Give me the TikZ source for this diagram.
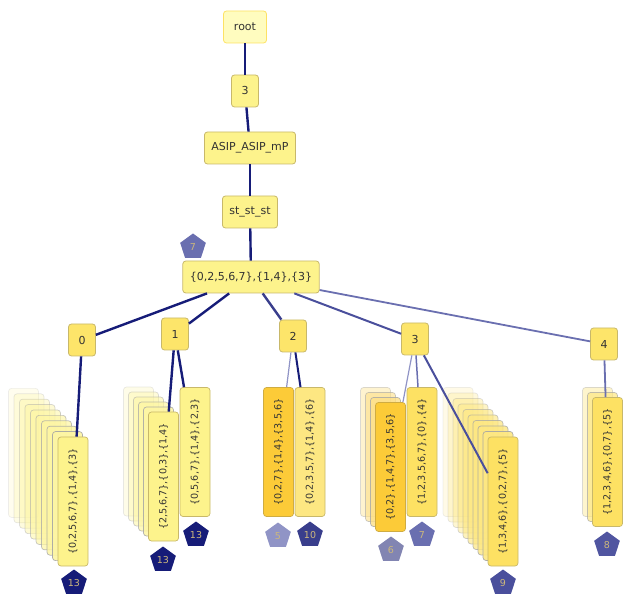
\documentclass[tikz,border=0pt]{standalone}
\usepackage{fontspec}
\setmainfont{DejaVu Sans}
\usepackage{xcolor}
\usepackage{tikz}
\usetikzlibrary{shapes.geometric}

\definecolor{boxfill}{HTML}{FDF38C}
\definecolor{boxline}{HTML}{C8B86A}
\definecolor{numfill}{HTML}{FDE56A}
\definecolor{deepfill}{HTML}{FDE163}
\definecolor{orangefill}{HTML}{FCCB38}
\definecolor{navy}{HTML}{161C78}
\definecolor{midblue}{HTML}{4A4F9C}
\definecolor{softblue}{HTML}{6A6FB0}
\definecolor{paleblue}{HTML}{9094C6}
\definecolor{pentext}{HTML}{CDB87C}

\begin{document}
\begin{tikzpicture}[x=1pt,y=-1pt,
    box/.style={draw=boxline,fill=boxfill,rounded corners=3pt,line width=0.8pt,
      text=black!80,font=\fontsize{11}{12}\selectfont,minimum height=32pt,inner xsep=7pt},
    num/.style={box,fill=numfill,minimum width=27pt},
    leaf/.style={draw=boxline,fill=boxfill,rounded corners=3pt,line width=0.7pt,rotate=90,
      text=black!80,font=\fontsize{9.6}{10}\selectfont,minimum width=129pt,minimum height=30pt,inner sep=1pt},
    ghost/.style={leaf,draw=black!35,fill=boxfill!80!white,draw opacity=#1,fill opacity=#1},
    pent/.style={regular polygon,regular polygon sides=5,inner sep=0pt,minimum size=27pt,
      fill=#1,text=pentext,font=\fontsize{9.5}{10}\selectfont},
    edge/.style={draw=#1,line width=2.4pt},
  ]
  \useasboundingbox (0,0) rectangle (624,601);

  % upper chain
  \node[box,fill=yellow!25,draw=yellow!70!orange!60,minimum width=43pt,inner xsep=5pt] (root) at (245,27) {root};
  \node[num,fill=boxfill] (k3) at (245,91) {3};
  \node[box] (asip) at (250,148) {ASIP\_ASIP\_mP};
  \node[box] (st) at (250,212) {st\_st\_st};
  \node[box] (set) at (251,277) {\{0,2,5,6,7\},\{1,4\},\{3\}};
  \node[pent=softblue] (p7top) at (193,247) {7};

  % second level
  \node[num] (n0) at (82,340) {0};
  \node[num] (n1) at (175,334) {1};
  \node[num] (n2) at (293,336) {2};
  \node[num] (n3) at (415,339) {3};
  \node[num] (n4) at (604,344) {4};

  \draw[edge=navy] (root) -- (k3);
  \draw[edge=navy] (k3) -- (asip);
  \draw[edge=navy] (asip) -- (st);
  \draw[edge=navy] (st) -- (set);
  \draw[edge=navy] (set) -- (n0);
  \draw[edge=navy] (set) -- (n1);
  \draw[edge=navy!85!white] (set) -- (n2);
  \draw[edge=midblue,line width=2pt] (set) -- (n3);
  \draw[edge=softblue,line width=1.8pt] (set) -- (n4);

  % stacks of ghosts
  \foreach \i in {9,...,1}
    \node[ghost={1-0.09*\i}] (ga\i) at ({73-5.5*\i},{501.5-5.4*\i}) {};
  \foreach \i in {5,...,1}
    \node[ghost={1-0.15*\i}] (gb\i) at ({163.5-5*\i},{476.5-5*\i}) {};
  \foreach \i in {3,...,1}
    \node[ghost={1-0.2*\i},fill=orangefill!60!white] (gc\i) at ({390.5-5*\i},{467-5*\i}) {};
  \foreach \i in {9,...,1}
    \node[ghost={1-0.09*\i},fill=deepfill!80!white] (gd\i) at ({503-5*\i},{501.5-5.5*\i}) {};
  \foreach \i in {2,...,1}
    \node[ghost={1-0.3*\i},fill=deepfill!80!white] (ge\i) at ({607.5-5*\i},{462-5*\i}) {};

  % leaves
  \node[leaf] (la) at (73,501.5) {\{0,2,5,6,7\},\{1,4\},\{3\}};
  \node[leaf] (lb) at (163.5,476.5) {\{2,5,6,7\},\{0,3\},\{1,4\}};
  \node[leaf] (lb2) at (195,452) {\{0,5,6,7\},\{1,4\},\{2,3\}};
  \node[leaf,fill=orangefill,draw=orangefill!80!black!90] (lc) at (278.5,452) {\{0,2,7\},\{1,4\},\{3,5,6\}};
  \node[leaf,fill=deepfill!80!white] (lc2) at (310,452) {\{0,2,3,5,7\},\{1,4\},\{6\}};
  \node[leaf,fill=orangefill,draw=orangefill!80!black!90] (ld) at (390.5,467) {\{0,2\},\{1,4,7\},\{3,5,6\}};
  \node[leaf,fill=deepfill] (ld2) at (422,452) {\{1,2,3,5,6,7\},\{0\},\{4\}};
  \node[leaf,fill=deepfill] (le) at (503,501.5) {\{1,3,4,6\},\{0,2,7\},\{5\}};
  \node[leaf,fill=deepfill] (lf) at (607.5,462) {\{1,2,3,4,6\},\{0,7\},\{5\}};

  \draw[edge=navy] (n0) -- (la);
  \draw[edge=navy] (n1) -- (lb);
  \draw[edge=navy] (n1) -- (lb2);
  \draw[edge=paleblue,line width=1.2pt] (n2) -- (lc);
  \draw[edge=navy,line width=2pt] (n2) -- (lc2);
  \draw[edge=paleblue,line width=1.2pt] (n3) -- (ld);
  \draw[edge=softblue,line width=1.5pt] (n3) -- (ld2);
  \draw[edge=midblue,line width=2pt] (n3) -- (le);
  \draw[edge=softblue,line width=1.8pt] (n4) -- (lf);

  % scores
  \node[pent=navy] (sa) at (74,583) {13};
  \node[pent=navy] (sb) at (163,560) {13};
  \node[pent=navy] (sb2) at (196,535) {13};
  \node[pent=paleblue] (sc) at (278,536) {5};
  \node[pent=navy!85!white] (sc2) at (310,535) {10};
  \node[pent=paleblue!90!black] (sd) at (391,550) {6};
  \node[pent=softblue] (sd2) at (422,535) {7};
  \node[pent=midblue] (se) at (503,583) {9};
  \node[pent=midblue!80!softblue] (sf) at (607,545) {8};
\end{tikzpicture}
\end{document}
